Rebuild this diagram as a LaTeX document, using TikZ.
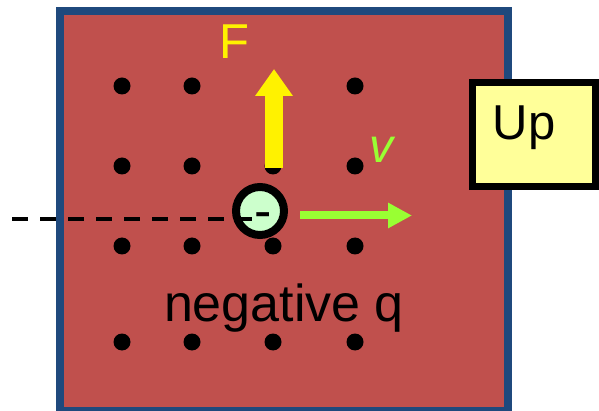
\documentclass[tikz,border=0pt]{standalone}
\usepackage{fontspec}
\setmainfont{Liberation Sans}
\usetikzlibrary{arrows.meta}
\definecolor{platered}{RGB}{192,80,77}
\definecolor{frameblue}{RGB}{31,73,125}
\definecolor{vgreen}{RGB}{153,255,51}
\definecolor{chargegreen}{RGB}{204,255,204}
\definecolor{upyellow}{RGB}{255,255,153}

\begin{document}
\begin{tikzpicture}[x=1pt,y=-1pt,
    label/.style={inner sep=0pt,anchor=base,font=\fontsize{49}{55}\selectfont}]
  \useasboundingbox (0,0) rectangle (599,411);

  % plate and field dots
  \draw[line width=8pt,draw=frameblue,fill=platered] (60,11) rectangle (508,411);
  \foreach \x in {122,192,273,355}
    \foreach \y in {86,166,246,342}
      \fill (\x,\y) circle (8.5pt);

  % force
  \coordinate (Fbase) at (274,168); \coordinate (Ftip) at (274,69);
  \draw[yellow,line width=18pt,-{Triangle[length=27pt,width=36pt]}] (Fbase) -- (Ftip);
  \node[label,text=yellow] (Flabel) at (234,59) {F};

  % charge and its path
  \node[circle,draw,line width=8pt,fill=chargegreen,minimum size=48pt,inner sep=0pt] (q) at (260,211) {};
  \coordinate (pathstart) at (12,219); \coordinate (pathend) at (252,219);
  \draw[line width=3.5pt,dash pattern=on 16pt off 12pt] (pathstart) -- (pathend);
  \node[label,font=\fontsize{52}{60}\selectfont] (qsign) at (263,228.5) {-};

  % velocity
  \coordinate (vbase) at (300,215.5); \coordinate (vtip) at (412,215.5);
  \draw[vgreen,line width=8pt,-{Triangle[length=24pt,width=24pt]}] (vbase) -- (vtip);
  \node[label,text=vgreen,font=\itshape\fontsize{48}{54}\selectfont] (vlabel) at (381,163) {v};

  % labels
  \node[label,font=\fontsize{52}{60}\selectfont] (qname) at (284,321) {negative q};
  \node[draw,line width=6.5pt,fill=upyellow,minimum width=123pt,minimum height=104pt,inner sep=0pt] (upbox) at (534,134.5) {};
  \node[label] (uptext) at (524,140) {Up};
\end{tikzpicture}
\end{document}
